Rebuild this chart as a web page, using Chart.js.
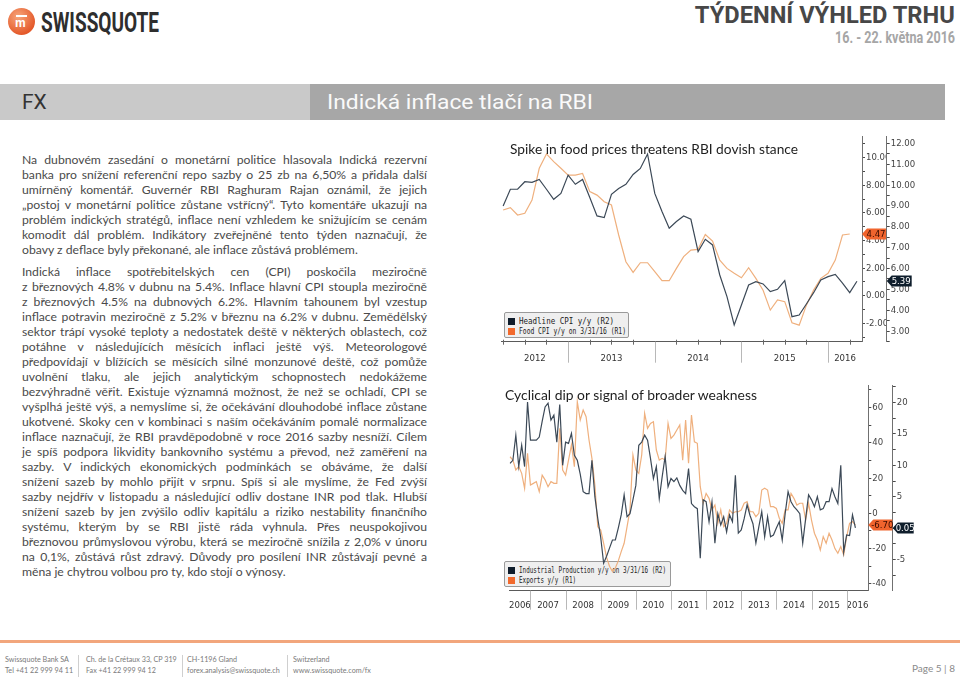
<!DOCTYPE html>
<html lang="cs">
<head>
<meta charset="utf-8">
<title>Týdenní výhled trhu – Indická inflace tlačí na RBI</title>
<script src="https://cdn.jsdelivr.net/npm/chart.js@4.4.1/dist/chart.umd.min.js"></script>
<style>
  html, body { margin: 0; padding: 0; background: #fff; }
  #page { position: relative; width: 960px; height: 681px; overflow: hidden; font-family: Lato, 'Open Sans', sans-serif; }
  .abs { position: absolute; white-space: nowrap; }
  .fit { display: inline-block; transform-origin: 0 50%; }
  .fit-r { display: inline-block; transform-origin: 100% 50%; }

  #logo { left: 8px; top: 8px; width: 27px; height: 27px; border-radius: 50%;
          background: radial-gradient(circle at 38% 32%, #f7a57a, #e4592a 72%); }
  #logo .bar { position: absolute; left: 8px; top: 7px; width: 11px; height: 2px; background: #fff; }
  #logo .m { position: absolute; left: 7px; top: 8px; font: bold 12px 'Liberation Sans', sans-serif; color: #fff; }
  #brand { left: 41px; top: 6px; font: bold 28px Roboto, sans-serif; color: #2e2e2e; }
  #weekly { right: 5px; top: 1px; font: bold 24px Roboto, sans-serif; color: #474747; }
  #dates { right: 5px; top: 28px; font: bold 16px Roboto, sans-serif; color: #a6a6a6; }

  #band-l { left: 0; top: 84px; width: 310px; height: 36px; background: #c9c9c9; }
  #band-r { left: 310px; top: 84px; width: 635px; height: 36px; background: #a7a7a7; }
  #fx { left: 22px; top: 90px; font: 21px Roboto, sans-serif; color: #333; }
  #headline { left: 327px; top: 90px; font: 21px Roboto, sans-serif; color: #fafafa; }

  #text { left: 22px; top: 152px; width: 405px; color: #4a4a4a; font-size: 12.2px; white-space: normal; }
  #text .l { height: 15px; line-height: 15px; white-space: nowrap; text-align: justify; text-align-last: justify; }
  #text .l.end { text-align-last: left; }
  #text .p2 { margin-top: 7px; }

  .ctitle { font: 14px Lato, sans-serif; color: #1e1e1e; }
  .legend { background: #efefef; border: 1px solid #9a9a9a; border-radius: 2px; box-sizing: border-box; }
  .legend .row { position: absolute; left: 3px; height: 10px; line-height: 10px; font: 8px 'DejaVu Sans Mono', monospace; color: #222; }
  .legend .sw { position: absolute; left: 0; top: 1px; width: 7px; height: 7px; }
  .legend .tx { position: absolute; left: 11px; top: 0; }

  canvas { position: absolute; }

  #rule { left: 0; top: 640px; width: 960px; height: 3px; background: #f2a67c; }
  .foot { font: 7.2px Lato, sans-serif; color: #7a7a7a; line-height: 11px; }
  .vsep { width: 1px; height: 22px; top: 655px; background: #cfcfcf; }
  #pageno { right: 5px; top: 662px; font: 10px Lato, sans-serif; color: #8a8a8a; }
</style>
</head>
<body>
<div id="page">
  <div id="logo" class="abs"><div class="bar"></div><div class="m">m</div></div>
  <div id="brand" class="abs"><span class="fit" data-w="118">SWISSQUOTE</span></div>
  <div id="weekly" class="abs"><span class="fit-r" data-w="260">TÝDENNÍ VÝHLED TRHU</span></div>
  <div id="dates" class="abs"><span class="fit-r" data-w="120">16. - 22. května 2016</span></div>

  <div id="band-l" class="abs"></div>
  <div id="band-r" class="abs"></div>
  <div id="fx" class="abs">FX</div>
  <div id="headline" class="abs"><span class="fit" data-w="266">Indická inflace tlačí na RBI</span></div>

  <div id="text" class="abs">
    <div class="l">Na dubnovém zasedání o monetární politice hlasovala Indická rezervní</div>
    <div class="l">banka pro snížení referenční repo sazby o 25 zb na 6,50% a přidala další</div>
    <div class="l">umírněný komentář. Guvernér RBI Raghuram Rajan oznámil, že jejich</div>
    <div class="l">„postoj v monetární politice zůstane vstřícný“. Tyto komentáře ukazují na</div>
    <div class="l">problém indických stratégů, inflace není vzhledem ke snižujícím se cenám</div>
    <div class="l">komodit dál problém. Indikátory zveřejněné tento týden naznačují, že</div>
    <div class="l end">obavy z deflace byly překonané, ale inflace zůstává problémem.</div>
    <div class="l p2">Indická inflace spotřebitelských cen (CPI) poskočila meziročně</div>
    <div class="l">z březnových 4.8% v dubnu na 5.4%. Inflace hlavní CPI stoupla meziročně</div>
    <div class="l">z březnových 4.5% na dubnových 6.2%. Hlavním tahounem byl vzestup</div>
    <div class="l">inflace potravin meziročně z 5.2% v březnu na 6.2% v dubnu. Zemědělský</div>
    <div class="l">sektor trápí vysoké teploty a nedostatek deště v některých oblastech, což</div>
    <div class="l">potáhne v následujících měsících inflaci ještě výš. Meteorologové</div>
    <div class="l">předpovídají v blížících se měsících silné monzunové deště, což pomůže</div>
    <div class="l">uvolnění tlaku, ale jejich analytickým schopnostech nedokážeme</div>
    <div class="l">bezvýhradně věřit. Existuje významná možnost, že než se ochladí, CPI se</div>
    <div class="l">vyšplhá ještě výš, a nemyslíme si, že očekávání dlouhodobé inflace zůstane</div>
    <div class="l">ukotvené. Skoky cen v kombinaci s naším očekáváním pomalé normalizace</div>
    <div class="l">inflace naznačují, že RBI pravděpodobně v roce 2016 sazby nesníží. Cílem</div>
    <div class="l">je spíš podpora likvidity bankovního systému a převod, než zaměření na</div>
    <div class="l">sazby. V indických ekonomických podmínkách se obáváme, že další</div>
    <div class="l">snížení sazeb by mohlo přijít v srpnu. Spíš si ale myslíme, že Fed zvýší</div>
    <div class="l">sazby nejdřív v listopadu a následující odliv dostane INR pod tlak. Hlubší</div>
    <div class="l">snížení sazeb by jen zvýšilo odliv kapitálu a riziko nestability finančního</div>
    <div class="l">systému, kterým by se RBI jistě ráda vyhnula. Přes neuspokojivou</div>
    <div class="l">březnovou průmyslovou výrobu, která se meziročně snížila z 2,0% v únoru</div>
    <div class="l">na 0,1%, zůstává růst zdravý. Důvody pro posílení INR zůstávají pevné a</div>
    <div class="l end">měna je chytrou volbou pro ty, kdo stojí o výnosy.</div>
  </div>

  <!-- chart 1 -->
  <div class="abs legend" style="left:504px;top:312px;width:125px;height:26px;">
    <div class="row" style="top:4px;"><div class="sw" style="background:#0e1c2b"></div><span class="tx"><span class="fit" data-w="95">Headline CPI y/y (R2)</span></span></div>
    <div class="row" style="top:14px;"><div class="sw" style="background:#f26a2d"></div><span class="tx"><span class="fit" data-w="107">Food CPI y/y on 3/31/16 (R1)</span></span></div>
  </div>
  <canvas id="cpiChart" width="430" height="240" style="left:500px;top:130px;"></canvas>
  <div class="abs ctitle" style="left:510px;top:140px;"><span class="fit" data-w="288">Spike in food prices threatens RBI dovish stance</span></div>

  <!-- chart 2 -->
  <div class="abs legend" style="left:504px;top:561px;width:167px;height:26px;">
    <div class="row" style="top:4px;"><div class="sw" style="background:#0e1c2b"></div><span class="tx"><span class="fit" data-w="147">Industrial Production y/y on 3/31/16 (R2)</span></span></div>
    <div class="row" style="top:14px;"><div class="sw" style="background:#f26a2d"></div><span class="tx"><span class="fit" data-w="57">Exports y/y (R1)</span></span></div>
  </div>
  <canvas id="ipChart" width="430" height="240" style="left:500px;top:375px;"></canvas>
  <div class="abs ctitle" style="left:505px;top:386px;"><span class="fit" data-w="252">Cyclical dip or signal of broader weakness</span></div>

  <!-- footer -->
  <div id="rule" class="abs"></div>
  <div class="abs foot" style="left:5px;top:654px;">Swissquote Bank SA<br>Tel +41 22 999 94 11</div>
  <div class="abs vsep" style="left:78px;"></div>
  <div class="abs foot" style="left:86px;top:654px;">Ch. de la Crétaux 33, CP 319<br>Fax +41 22 999 94 12</div>
  <div class="abs vsep" style="left:182px;"></div>
  <div class="abs foot" style="left:187px;top:654px;">CH-1196 Gland<br>forex.analysis@swissquote.ch</div>
  <div class="abs vsep" style="left:287px;"></div>
  <div class="abs foot" style="left:293px;top:654px;">Switzerland<br>www.swissquote.com/fx</div>
  <div id="pageno" class="abs">Page 5 | 8</div>
</div>

<script>
// Chart data - monthly values (month end)

// Chart 1: Spike in food prices threatens RBI dovish stance
const cpiYears = ['2012', '2013', '2014', '2015', '2016'];
const headlineCpiStart = '2012-03';
const headlineCpi = [
    9.0, 9.8, 9.8, 10.16, 10.13, 10.27, 9.8, 9.32, 9.6, 10.48,
    10.04, 10.27, 9.4, 8.52, 8.44, 9.56, 9.84, 10.04, 10.51, 10.8, 11.49, 9.6,
    8.73, 7.93, 8.25, 8.52, 8.36, 6.81, 7.4, 7.13, 5.69, 4.65, 3.29, 4.25,
    5.21, 5.37, 5.26, 4.89, 5.0, 5.42, 3.69, 3.77, 4.3, 4.84, 5.45, 5.61,
    5.72, 5.3, 4.84, 5.39
];
const foodCpiStart = '2012-03';
const foodCpi = [
    6.21, 6.38, 5.85, 5.97, 6.93, 9.23, 10.27, 9.71, 9.23, 8.74,
    8.74, 8.86, 7.54, 7.29, 6.81, 6.57, 4.40, 2.46, 1.69, 2.39, 2.39, 1.74,
    1.09, 1.09, 1.98, 2.83, 3.31, 3.36, 4.44, 3.96, 2.58, 1.98, 1.62, 1.30,
    2.03, 1.26, 0.4, -1.04, -0.31, -0.43, -1.96, -2.13, -0.68, 0.41, 1.26, 1.62,
    2.58, 4.40, 4.47
];

// Chart 2: Cyclical dip or signal of broader weakness
const ipYears = ['2006', '2007', '2008', '2009', '2010', '2011', '2012', '2013', '2014', '2015', '2016'];
const industrialStart = '2006-05';
const industrialProduction = [
    10.3, 10.8, 14.8, 9.8, 13.2, 9.8, 20.1, 14.0,
    14.0, 14.0, 14.5, 17.0, 19.3, 19.9, 17.2, 18.0, 13.7, 19.7, 10.0, 13.7,
    13.5, 15.1, 11.6, 10.8, 8.6, 5.8, 5.5, 5.5, 10.8, 5.0, 1.5, -1.5,
    -5.6, -4.5, -3.2, -1.9, -1.9, 0.0, 2.1, 5.3, 1.8, 2.3, 4.5, 6.8,
    13.2, 13.7, 14.8, 14.0, 11.1, 7.9, 9.8, 4.7, 8.2, 11.4, 6.6, 7.9,
    7.4, 8.0, 6.8, 6.0, 5.5, 9.5, 3.9, 3.4, 3.1, -4.8, 4.5, 4.2,
    1.0, 4.2, -2.4, 2.3, 0.5, 1.8, -0.6, 2.1, 1.0, 8.4, -0.8, -0.3,
    1.5, 3.7, 2.0, 0.7, -2.4, 0.2, 2.6, -1.4, 1.8, -1.4, -1.1, 0.0,
    1.0, -1.9, 2.3, 5.8, 4.2, 3.4, 2.9, 2.3, -2.4, 1.5, 5.3, 4.5,
    3.4, 5.0, 2.9, 3.1, 4.2, 4.2, 6.3, 5.0, 3.9, 10.0, -3.8, -1.1,
    -1.2, 2.1, 0.05
];
const exportsStart = '2006-05';
const exportsYoy = [
    32.1, 30.2, 24.6, 26.5, 22.7, 14.2, 34.0, 16.1,
    17.0, 18.0, 12.3, 21.7, 19.0, 15.1, 18.0, 17.0, 17.0, 48.2, 24.6, 21.7,
    30.2, 38.8, 26.5, 63.3, 52.9, 58.6, 54.8, 41.6, 31.2, 16.1, -7.6, -9.5,
    -17.0, -25.0, -30.0, -33.0, -31.0, -27.0, -21.7, -17.0, -7.6, 1.9, 33.1, 24.6,
    22.7, 33.1, 56.7, 48.2, 51.0, 52.0, 35.9, 30.2, 31.2, 30.2, 51.0, 42.5,
    44.4, 47.3, 50.1, 30.2, 52.9, 28.4, 55.8, 40.6, 39.7, 15.1, 5.7, 11.3,
    8.5, 1.9, 4.7, -5.7, 1.9, -7.6, -5.7, 1.9, 0.0, 0.9, 0.9, 1.9,
    5.7, 6.6, 0.9, 0.9, -1.9, 0.0, 13.2, 14.2, 13.2, 3.8, 3.8, 2.8,
    -2.8, -5.7, 1.9, 1.9, 11.3, 8.5, 4.7, 5.7, 5.7, -3.8, 5.7, -3.8,
    -11.3, -15.1, -20.8, -13.2, -17.0, -11.3, -15.1, -20.0, -22.7, -18.9, -23.6, -13.2,
    -5.7, -4.7, -6.7
];

// Colors
const colors = {
    headline: '#3c4957',
    food: '#efb07e',
    tagOrange: '#f0642d',
    tagDark: '#0f1e2c',
    axis: '#707070',
    tick: '#4a4a4a',
    separator: '#b8b8b8'
};

Chart.defaults.font.family = "'Liberation Sans Narrow', 'DejaVu Sans Condensed', 'Liberation Sans', sans-serif";
Chart.defaults.color = '#444';

// Helpers
function monthIndex(ym, baseYear) {
    const [y, m] = ym.split('-').map(Number);
    return (y - baseYear) * 12 + m;
}

function toPoints(values, start, baseYear) {
    const first = monthIndex(start, baseYear);
    return values.map((v, i) => ({ x: first + i, y: v }));
}

function isMultiple(v, m) {
    return Math.abs(v / m - Math.round(v / m)) < 1e-6;
}

function stepTicks(axis, step) {
    const ticks = [];
    for (let k = Math.ceil(axis.min / step - 1e-9); k * step <= axis.max + 1e-9; k++) {
        ticks.push({ value: +(k * step).toFixed(6) });
    }
    axis.ticks = ticks;
}

// one tick per year, centred on the visible part of the year
function yearTicks(axis, years) {
    axis.ticks = years.map((y, i) => {
        const a = Math.max(axis.min, i * 12);
        const b = Math.min(axis.max, i * 12 + 12);
        return { value: (a + b) / 2 };
    });
}

function xAxis(cfg) {
    return {
        type: 'linear',
        min: cfg.min,
        max: cfg.max,
        afterFit: a => { a.height = cfg.height; },
        afterBuildTicks: a => yearTicks(a, cfg.years),
        border: { display: true, color: '#5a5a5a', width: 1 },
        grid: { drawOnChartArea: false, drawTicks: false, color: 'rgba(0,0,0,0)' },
        ticks: {
            autoSkip: false, maxRotation: 0, padding: cfg.padding,
            font: { size: 9.5 }, color: '#333',
            callback: (v, i) => cfg.years[i]
        }
    };
}

function yAxis(cfg) {
    return {
        type: 'linear',
        position: 'right',
        weight: cfg.weight,
        min: cfg.min,
        max: cfg.max,
        afterFit: a => { a.width = cfg.width; },
        afterBuildTicks: a => stepTicks(a, cfg.minor),
        border: { display: true, color: colors.axis, width: 1 },
        grid: { drawOnChartArea: false, drawTicks: true, tickLength: 3, color: colors.tick, tickWidth: 1 },
        ticks: {
            autoSkip: false, padding: 1, font: { size: 9.5 }, color: '#444',
            callback: v => isMultiple(v, cfg.major) ? cfg.format(v) : ''
        }
    };
}

// Year separators, quarter ticks and last-value tags on the right axes
const decorPlugin = {
    id: 'decor',
    afterDraw(chart, args, opts) {
        const ctx = chart.ctx;
        const x = chart.scales.x;
        ctx.save();
        ctx.lineWidth = 1;

        ctx.strokeStyle = colors.separator;
        for (let m = Math.ceil(x.min / 12) * 12; m < x.max; m += 12) {
            if (m <= x.min) continue;
            const px = Math.round(x.getPixelForValue(m)) + 0.5;
            ctx.beginPath();
            ctx.moveTo(px, x.top);
            ctx.lineTo(px, x.top + opts.separatorLength);
            ctx.stroke();
        }

        if (opts.quarterTicks) {
            ctx.strokeStyle = '#666';
            for (let m = Math.ceil(x.min / 3) * 3; m < x.max; m += 3) {
                if (m % 12 === 0) continue;
                const px = Math.round(x.getPixelForValue(m)) + 0.5;
                ctx.beginPath();
                ctx.moveTo(px, x.top - 2);
                ctx.lineTo(px, x.top + 3);
                ctx.stroke();
            }
        }

        opts.tags.forEach(tag => {
            const scale = chart.scales[tag.axis];
            const data = chart.data.datasets[tag.dataset].data;
            const last = data[data.length - 1].y;
            const y = Math.round(scale.getPixelForValue(last));
            const x0 = scale.left;
            const x1 = scale.left + tag.width;
            const h = 11;
            ctx.fillStyle = tag.fill;
            ctx.beginPath();
            ctx.moveTo(x0, y);
            ctx.lineTo(x0 + 5, y - h / 2);
            ctx.lineTo(x1, y - h / 2);
            ctx.lineTo(x1, y + h / 2);
            ctx.lineTo(x0 + 5, y + h / 2);
            ctx.closePath();
            ctx.fill();
            ctx.fillStyle = tag.color;
            ctx.font = "9.5px 'Liberation Sans Narrow', 'DejaVu Sans Condensed', sans-serif";
            ctx.textAlign = 'center';
            ctx.textBaseline = 'middle';
            ctx.fillText(last.toFixed(2), (x0 + 4 + x1) / 2, y + 0.5);
        });
        ctx.restore();
    }
};

function lineDataset(label, points, color, axis) {
    return {
        label: label,
        data: points,
        yAxisID: axis,
        borderColor: color,
        borderWidth: 1.2,
        pointRadius: 0,
        tension: 0,
        fill: false
    };
}

function createCpiChart() {
    new Chart(document.getElementById('cpiChart'), {
        type: 'line',
        data: {
            datasets: [
                lineDataset('Headline CPI y/y (R2)', toPoints(headlineCpi, headlineCpiStart, 2012), colors.headline, 'y2'),
                lineDataset('Food CPI y/y on 3/31/16 (R1)', toPoints(foodCpi, foodCpiStart, 2012), colors.food, 'y1')
            ]
        },
        options: {
            responsive: false,
            animation: false,
            devicePixelRatio: 1,
            layout: { padding: { left: 1.7, right: 13.3, top: 6.7, bottom: 2.3 } },
            scales: {
                x: xAxis({ min: 2.8, max: 52.7, height: 26, padding: 11, years: cpiYears }),
                y1: yAxis({ weight: 0, width: 24.7, min: -3.33, max: 11.52, minor: 1, major: 2, format: v => v.toFixed(2) }),
                y2: yAxis({ weight: 1, width: 30, min: 2.49, max: 12.32, minor: 0.5, major: 1, format: v => v.toFixed(2) })
            },
            plugins: {
                legend: { display: false },
                tooltip: { enabled: false },
                decor: {
                    separatorLength: 21,
                    quarterTicks: true,
                    tags: [
                        { dataset: 1, axis: 'y1', fill: colors.tagOrange, color: '#3a0c00', width: 24 },
                        { dataset: 0, axis: 'y2', fill: colors.tagDark, color: '#ffffff', width: 25 }
                    ]
                }
            }
        },
        plugins: [decorPlugin]
    });
}

function createIpChart() {
    new Chart(document.getElementById('ipChart'), {
        type: 'line',
        data: {
            datasets: [
                lineDataset('Industrial Production y/y on 3/31/16 (R2)', toPoints(industrialProduction, industrialStart, 2006), colors.headline, 'y2'),
                lineDataset('Exports y/y (R1)', toPoints(exportsYoy, exportsStart, 2006), colors.food, 'y1')
            ]
        },
        options: {
            responsive: false,
            animation: false,
            devicePixelRatio: 1,
            layout: { padding: { left: 1.7, right: 7.3, top: 10, bottom: 0.3 } },
            scales: {
                x: xAxis({ min: 4.8, max: 127.4, height: 24, padding: 9, years: ipYears }),
                y1: yAxis({ weight: 0, width: 24.4, min: -43.9, max: 72.8, minor: 10, major: 20, format: v => String(Math.round(v)) }),
                y2: yAxis({ weight: 1, width: 30, min: -9.98, max: 22.8, minor: 2.5, major: 5, format: v => String(Math.round(v)) })
            },
            plugins: {
                legend: { display: false },
                tooltip: { enabled: false },
                decor: {
                    separatorLength: 19,
                    quarterTicks: false,
                    tags: [
                        { dataset: 1, axis: 'y1', fill: colors.tagOrange, color: '#3a0c00', width: 24 },
                        { dataset: 0, axis: 'y2', fill: colors.tagDark, color: '#ffffff', width: 21 }
                    ]
                }
            }
        },
        plugins: [decorPlugin]
    });
}

// squeeze condensed-looking texts to the widths measured on the original
function fitTexts() {
    document.querySelectorAll('[data-w]').forEach(el => {
        const natural = el.getBoundingClientRect().width;
        const target = parseFloat(el.dataset.w);
        if (natural > 0) el.style.transform = 'scaleX(' + (target / natural) + ')';
    });
}

fitTexts();
createCpiChart();
createIpChart();
</script>
</body>
</html>
